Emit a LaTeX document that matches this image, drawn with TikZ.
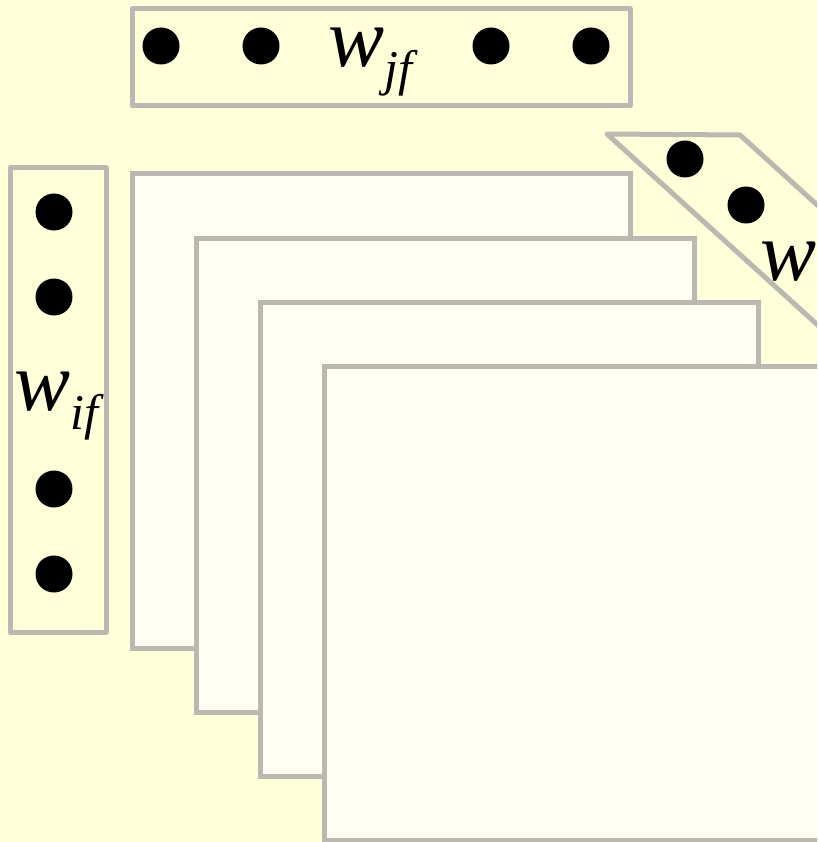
\documentclass[tikz,border=0pt]{standalone}
\usepackage{fontspec}
\setmainfont{Liberation Serif}
\usetikzlibrary{positioning}
\definecolor{paper}{HTML}{FFFFD9}
\definecolor{sheetfill}{HTML}{FFFFF4}
\definecolor{edge}{HTML}{B9B9B2}
\newcommand{\wlab}[1]{{\fontsize{84}{84}\selectfont\itshape w\raisebox{-19pt}{\fontsize{50}{50}\selectfont #1}}}
\begin{document}
\begin{tikzpicture}[x=1pt, y=-1pt,
    wbar/.style={draw=edge, line width=5pt, line join=round, fill=paper},
    sheet/.style={draw=edge, line width=5pt, fill=sheetfill},
    wdot/.style={circle, fill=black, inner sep=0pt, minimum size=37pt},
    wlabel/.style={inner sep=0pt, anchor=base west}
]
\useasboundingbox (0,0) rectangle (817,842);
\clip (0,0) rectangle (817,842);
\fill[paper] (0,0) rectangle (817,842);
% top bar
\draw[wbar] (132,9) rectangle (630,106);
\foreach \x [count=\k] in {161,261,491,591}
  \node[wdot] (jdot\k) at (\x,46) {};
\node[wlabel] (jlab) at (328,67) {\wlab{jf}};
% left bar
\draw[wbar] (10,168) rectangle (106,632);
\foreach \y [count=\k] in {212,297,489,574}
  \node[wdot] (idot\k) at (54,\y) {};
\node[wlabel] (ilab) at (14,410) {\wlab{if}};
% slanted bar
\draw[wbar] (607,134) -- (740,135) -- ++(300,272) -- ++(-133,-1) -- cycle;
\node[wdot] (kdot1) at (685,159) {};
\node[wdot] (kdot2) at (746,205) {};
\node[wlabel] (klab) at (760,280) {\wlab{ij}};
% sheets
\foreach \s in {0,...,3}
  \draw[sheet] (132+64*\s,174+64*\s) rectangle ++(498,474);
\end{tikzpicture}
\end{document}
